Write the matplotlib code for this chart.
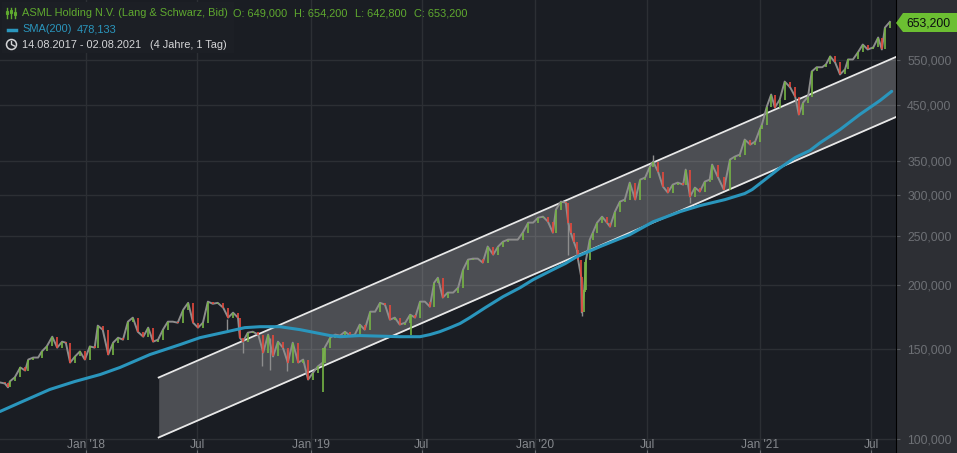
import numpy as np
import pandas as pd
import matplotlib
matplotlib.use('Agg')
import matplotlib.pyplot as plt
from matplotlib.patches import Polygon, Rectangle
from matplotlib.lines import Line2D

plt.rcParams['font.family'] = ['Liberation Sans', 'DejaVu Sans']

start = pd.Timestamp('2017-08-14')

# closes, days counted from the start date
days = [0, 8, 13, 16, 24, 33, 41, 46, 54, 62, 68, 76, 85, 93, 101, 107, 114, 122, 130, 138,
        146, 154, 159, 167, 176, 184, 192, 200, 208, 216, 224, 233, 241, 249, 257, 265, 273, 281, 289, 298,
        306, 314, 322, 330, 338, 346, 354, 363, 371, 379, 387, 390, 395, 403, 411, 420, 428, 436, 444, 452,
        460, 468, 476, 485, 493, 501, 509, 517, 525, 528, 537, 545, 553, 561, 569, 577, 585, 593, 602, 610,
        618, 626, 634, 642, 650, 659, 667, 675, 683, 691, 699, 706, 712, 720, 728, 737, 745, 753, 761, 769,
        777, 785, 793, 802, 810, 818, 826, 834, 842, 850, 859, 867, 875, 883, 891, 899, 904, 912, 920, 924,
        928, 933, 938, 940, 945, 946, 950, 953, 959, 964, 971, 979, 987, 992, 1000, 1008, 1016, 1024, 1033, 1041,
        1049, 1057, 1062, 1070, 1078, 1086, 1094, 1102, 1111, 1115, 1122, 1130, 1138, 1146, 1154, 1158, 1167, 1177, 1187, 1195,
        1203, 1211, 1220, 1228, 1236, 1239, 1247, 1254, 1260, 1268, 1276, 1285, 1293, 1299, 1306, 1314, 1320, 1328, 1337, 1343,
        1350, 1358, 1366, 1374, 1379, 1387, 1395, 1403, 1411, 1420, 1428, 1434, 1439, 1447]
closes = [129.2, 128.6, 126.4, 129.8, 132.2, 138.2, 136.3, 143.2, 144.5, 144.5, 148.5, 151.9, 158.7, 151.1, 155.2, 154.5, 141.3, 145.2, 148.5, 143.2,
          151.9, 151.1, 166.8, 163.8, 146.5, 154.5, 158.0, 156.6, 169.8, 172.9, 162.3, 158.7, 165.3, 155.2, 156.6, 163.8, 169.8, 169.8, 169.0, 179.2,
          184.8, 169.0, 165.3, 169.0, 185.8, 184.0, 184.8, 180.8, 172.9, 176.8, 172.9, 158.0, 155.2, 161.6, 162.3, 160.2, 147.8, 160.2, 145.2, 155.2,
          151.1, 141.3, 154.5, 141.3, 143.2, 130.9, 135.0, 138.9, 141.3, 151.1, 158.0, 160.2, 159.5, 162.3, 159.5, 160.2, 167.6, 163.8, 177.6, 177.6,
          184.8, 183.3, 171.3, 172.9, 167.6, 169.0, 175.2, 172.9, 185.8, 185.8, 181.6, 202.3, 206.9, 189.2, 193.5, 193.5, 197.9, 214.5, 224.4, 225.4,
          225.4, 221.4, 238.0, 229.5, 238.0, 243.3, 245.5, 245.5, 245.5, 253.3, 265.0, 265.0, 271.0, 272.2, 266.2, 253.3, 280.9, 291.2, 290.0, 265.0,
          253.3, 243.3, 234.7, 224.4, 208.0, 177.0, 196.1, 224.4, 245.5, 253.3, 265.0, 272.2, 265.0, 260.2, 278.4, 291.2, 293.9, 317.2, 293.9, 321.5,
          324.4, 340.9, 348.6, 333.3, 311.6, 303.3, 314.4, 317.2, 314.4, 336.3, 297.8, 310.2, 304.6, 318.6, 321.5, 344.0, 325.9, 307.4, 351.8, 356.6,
          359.8, 384.9, 376.3, 381.4, 404.0, 411.8, 446.5, 471.3, 444.5, 460.8, 499.5, 486.4, 467.0, 430.7, 454.6, 467.0, 522.7, 532.8, 532.8, 539.4,
          559.3, 544.4, 515.7, 527.4, 551.7, 551.7, 569.3, 590.0, 577.0, 582.3, 608.9, 577.0, 636.7, 653.2]

# long wicks that stick out of the line
wick_days = [395, 426, 439, 467, 369, 924, 946, 1062, 1122]
wick_tops = [155.0, 150.0, 158.0, 150.0, 172.0, 265.0, 187.5, 359.8, 297.8]
wick_lows = [147.3, 138.9, 136.9, 135.8, 163.8, 229.5, 174.0, 344.0, 289.9]
green_days = [525, 668, 951]
green_tops = [151.0, 175.0, 222.0]
green_lows = [124.0, 160.2, 194.0]

sma_days = [0, 33, 81, 122, 163, 195, 244, 293, 325, 369, 398, 423, 455, 488, 537, 553, 585, 650, 683, 699, 715, 732, 748, 764,
            789, 818, 846, 867, 899, 919, 938, 976, 1024, 1062, 1106, 1138, 1179, 1211, 1223, 1244, 1268, 1293, 1317, 1333, 1366, 1398, 1431, 1450]
sma_vals = [113.4, 118.1, 125.2, 129.8, 133.9, 138.2, 146.5, 153.2, 158.0, 162.3, 165.3, 166.0, 166.0, 163.8, 159.5, 158.7, 159.5, 158.7, 158.7, 160.2, 162.3, 165.3, 168.4, 172.9,
            180.8, 190.0, 197.9, 205.1, 214.5, 220.4, 227.4, 238.0, 251.0, 266.0, 278.4, 286.0, 293.9, 302.0, 307.4, 321.5, 338.6, 355.0, 366.4, 379.0, 402.6, 430.7, 458.7, 478.1]

channel_days = [258, 1457]
channel_upper = [132.1, 558.0]
channel_lower = [100.9, 426.0]

price_ticks = [100, 150, 200, 250, 300, 350, 450, 550]
price_labels = ['100,000', '150,000', '200,000', '250,000', '300,000', '350,000', '450,000', '550,000']
date_ticks = ['2018-01-01', '2018-07-01', '2019-01-01', '2019-07-01', '2020-01-01', '2020-07-01', '2021-01-01', '2021-07-01']
date_labels = ["Jan '18", 'Jul', "Jan '19", 'Jul', "Jan '20", 'Jul', "Jan '21", 'Jul']

bg = '#1a1d23'
panel = '#2d2f34'
grid = '#2c2f34'
green = '#76b544'
red = '#e5483c'
blue = '#2a96bd'

W, H = 957, 453
fig = plt.figure(figsize=(W / 100, H / 100), dpi=100, facecolor=panel)
ax = fig.add_axes([0, 0, 896 / W, 1], facecolor=bg)
ax.set_yscale('log')

dates = start + pd.to_timedelta(days, unit='D')
ax.set_xlim(start, start + pd.Timedelta(days=1457))
ax.set_ylim(94.1, 720.7)

# grid
ax.set_yticks(price_ticks)
ax.set_yticklabels(price_labels)
ax.minorticks_off()
ax.set_xticks(pd.to_datetime(date_ticks))
ax.set_xticklabels([''] * len(date_ticks))
ax.grid(True, color=grid, lw=1)
ax.set_axisbelow(True)
ax.yaxis.tick_right()
ax.tick_params(axis='y', length=3, width=0.8, color='#55585d', pad=5, labelcolor='#6d7075', labelsize=8.8)
ax.tick_params(axis='x', length=2, color='#6a6d72', direction='in')
for s in ['top', 'left', 'bottom']:
    ax.spines[s].set_visible(False)
ax.spines['right'].set_color('#000000')

for d, lab in zip(date_ticks, date_labels):
    ax.annotate(lab, (pd.Timestamp(d), 0), xycoords=('data', 'axes fraction'), xytext=(0, 8),
                textcoords='offset pixels', ha='center', va='center', color='#85888d', fontsize=8.6)

# channel
chan_x = start + pd.to_timedelta(channel_days, unit='D')
ax.fill_between(chan_x, channel_lower, channel_upper, color='#ffffff', alpha=0.22, lw=0, zorder=2)
ax.plot(chan_x, channel_upper, color='#e8e8e8', lw=1.3, zorder=3)
ax.plot(chan_x, channel_lower, color='#e8e8e8', lw=1.3, zorder=3)

# price: gray line as the wicks, coloured bodies on top
ax.plot(dates, closes, color='#8d8d8d', lw=1.4, zorder=4)
ax.vlines(start + pd.to_timedelta(wick_days, unit='D'), wick_lows, wick_tops, color='#8d8d8d', lw=1.0, zorder=4)
ax.vlines(start + pd.to_timedelta(green_days, unit='D'), green_lows, green_tops, color=green, lw=1.2, zorder=5)
opens = np.array([closes[0]] + closes[:-1])
cl = np.array(closes)
up = cl >= opens
ax.vlines(dates[up], opens[up], cl[up], color=green, lw=1.2, zorder=5)
ax.vlines(dates[~up], opens[~up], cl[~up], color=red, lw=1.2, zorder=5)

# sma
sma_x = start + pd.to_timedelta(sma_days, unit='D')
ax.plot(sma_x, sma_vals, color=blue, lw=2.2, zorder=6, solid_capstyle='round')


# helper, pixel coordinates from the top left
def px(x, y):
    return x / W, 1 - y / H


# price tag
pts = [px(896, 23), px(903, 13), px(957, 13), px(957, 32), px(903, 32)]
fig.add_artist(Polygon(pts, closed=True, transform=fig.transFigure, fc='#6cbf32', ec='none'))
fig.text(*px(906, 23), '653,200', color='#0b0d10', fontsize=8.8, va='center', ha='left')

# header
fig.add_artist(Rectangle(px(2, 53), 232 / W, 51 / H, transform=fig.transFigure, fc='#1c1f25', ec='none', zorder=1))
fig.text(*px(22, 13.5), 'ASML Holding N.V. (Lang & Schwarz, Bid)', color='#5fa92f', fontsize=7.9, va='center')
fig.text(*px(233, 13.5), 'O: 649,000', color='#5fa92f', fontsize=7.9, va='center')
fig.text(*px(294, 13.5), 'H: 654,200', color='#5fa92f', fontsize=7.9, va='center')
fig.text(*px(355, 13.5), 'L: 642,800', color='#5fa92f', fontsize=7.9, va='center')
fig.text(*px(414, 13.5), 'C: 653,200', color='#5fa92f', fontsize=7.9, va='center')
fig.text(*px(22, 29.5), 'SMA(200)', color=blue, fontsize=7.9, va='center')
fig.text(*px(77, 29.5), '478,133', color=blue, fontsize=7.9, va='center')
fig.text(*px(22, 45.5), '14.08.2017 - 02.08.2021', color='#d4d5d7', fontsize=7.9, va='center')
fig.text(*px(150, 45.5), '(4 Jahre, 1 Tag)', color='#d4d5d7', fontsize=7.9, va='center')

# little icons
for x0 in [7, 11, 15]:
    x1, y1 = px(x0, 8)
    x2, y2 = px(x0, 18)
    fig.add_artist(Line2D([x1, x2], [y1, y2], color='#5fa92f', lw=1, transform=fig.transFigure))
    fig.add_artist(Rectangle(px(x0 - 1, 15 - (x0 % 3)), 2 / W, 3 / H, transform=fig.transFigure,
                             fc=bg, ec='#5fa92f', lw=0.8))
x1, y1 = px(8, 29.5)
x2, y2 = px(16, 29.5)
fig.add_artist(Line2D([x1, x2], [y1, y2], color=blue, lw=2.5, transform=fig.transFigure))
fig.add_artist(plt.Circle((11.5, H - 44.5), 5, transform=None, fc='none', ec='#d4d5d7', lw=1.1))
fig.add_artist(Line2D([11.5, 11.5, 14.5], [H - 41.5, H - 44.5, H - 46], color='#d4d5d7', lw=1, transform=None))

fig.savefig('out.png', dpi=100, facecolor=fig.get_facecolor())
